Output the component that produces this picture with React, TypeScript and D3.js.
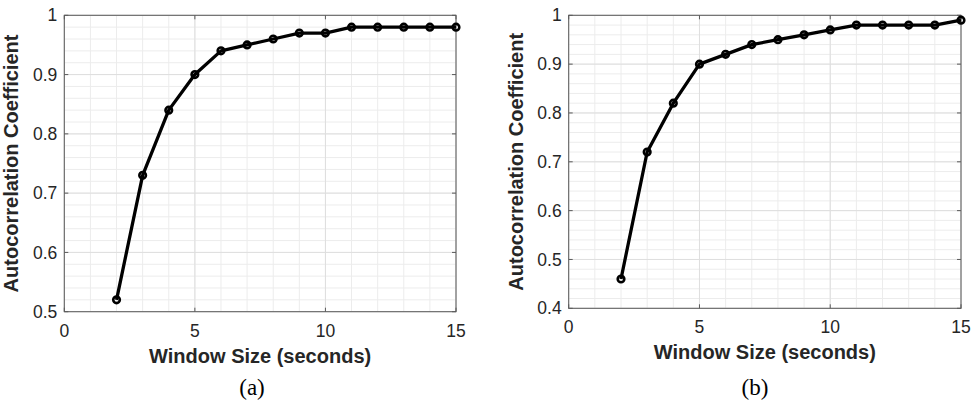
import React from 'react';
import * as d3 from 'd3';

const windowSizes = [2, 3, 4, 5, 6, 7, 8, 9, 10, 11, 12, 13, 14, 15];
const coeffA = [0.52, 0.73, 0.84, 0.90, 0.94, 0.95, 0.96, 0.97, 0.97, 0.98, 0.98, 0.98, 0.98, 0.98];
const coeffB = [0.46, 0.72, 0.82, 0.90, 0.92, 0.94, 0.95, 0.96, 0.97, 0.98, 0.98, 0.98, 0.98, 0.99];
const xTicks = [0, 5, 10, 15];
const yTicksA = [0.5, 0.6, 0.7, 0.8, 0.9, 1];
const yTicksB = [0.4, 0.5, 0.6, 0.7, 0.8, 0.9, 1];

const sans = '"Liberation Sans", Arial, sans-serif';

type PanelProps = {
    values: number[];
    yMin: number;
    yTicks: number[];
    left: number;
    right: number;
    top: number;
    bottom: number;
    caption: string;
    captionX: number;
};

const Panel = ({ values, yMin, yTicks, left, right, top, bottom, caption, captionX }: PanelProps) => {
    const x = d3.scaleLinear().domain([0, 15]).range([left, right]);
    const y = d3.scaleLinear().domain([yMin, 1]).range([bottom, top]);

    const xMinor = d3.range(0, 15.001, 1);
    const yMinor = d3.range(yMin, 1.0001, 0.02);

    const line = d3.line<number>()
        .x((d, i) => x(windowSizes[i]))
        .y(d => y(d));

    const cx = (left + right) / 2;
    const cy = (top + bottom) / 2;
    const tick = 4;

    return (
        <g>
            <rect x={left} y={top} width={right - left} height={bottom - top} fill="#fff" />
            {xMinor.map(v => (
                <line key={'xm' + v} x1={x(v)} x2={x(v)} y1={top} y2={bottom} stroke="#ececec" strokeWidth={1} />
            ))}
            {yMinor.map(v => (
                <line key={'ym' + v} x1={left} x2={right} y1={y(v)} y2={y(v)} stroke="#ececec" strokeWidth={1} />
            ))}
            {xTicks.map(v => (
                <line key={'xg' + v} x1={x(v)} x2={x(v)} y1={top} y2={bottom} stroke="#dedede" strokeWidth={1} />
            ))}
            {yTicks.map(v => (
                <line key={'yg' + v} x1={left} x2={right} y1={y(v)} y2={y(v)} stroke="#dedede" strokeWidth={1} />
            ))}
            <rect x={left} y={top} width={right - left} height={bottom - top} fill="none" stroke="#5a5a5a" strokeWidth={1} />
            {xTicks.map(v => (
                <g key={'xt' + v}>
                    <line x1={x(v)} x2={x(v)} y1={bottom} y2={bottom - tick} stroke="#5a5a5a" />
                    <line x1={x(v)} x2={x(v)} y1={top} y2={top + tick} stroke="#5a5a5a" />
                    <text x={x(v)} y={bottom + 25} textAnchor="middle" fontFamily={sans} fontSize={17.5} fill="#262626">{v}</text>
                </g>
            ))}
            {yTicks.map(v => (
                <g key={'yt' + v}>
                    <line x1={left} x2={left + tick} y1={y(v)} y2={y(v)} stroke="#5a5a5a" />
                    <line x1={right} x2={right - tick} y1={y(v)} y2={y(v)} stroke="#5a5a5a" />
                    <text x={left - 7} y={y(v)} dy="0.35em" textAnchor="end" fontFamily={sans} fontSize={17.5} fill="#262626">{d3.format('~g')(v)}</text>
                </g>
            ))}
            <path d={line(values) ?? ''} fill="none" stroke="#000" strokeWidth={3.3} strokeLinejoin="round" />
            {values.map((v, i) => (
                <circle key={'p' + i} cx={x(windowSizes[i])} cy={y(v)} r={3.3} fill="none" stroke="#000" strokeWidth={2.6} />
            ))}
            <text x={cx} y={bottom + 51} textAnchor="middle" fontFamily={sans} fontSize={20} fontWeight="bold" fill="#262626">Window Size (seconds)</text>
            <text transform={`translate(${left - 46},${cy}) rotate(-90)`} textAnchor="middle" fontFamily={sans} fontSize={20} fontWeight="bold" fill="#262626">Autocorrelation Coefficient</text>
            <text x={captionX} y={395} textAnchor="middle" fontFamily='"Liberation Serif", "Times New Roman", serif' fontSize={23} fill="#000">{caption}</text>
        </g>
    );
};

const App = () => {
    return (
        <svg width={971} height={402} style={{ position: 'absolute', left: 0, top: 0, background: '#fff' }}>
            <Panel values={coeffA} yMin={0.5} yTicks={yTicksA} left={64.3} right={456} top={15.3} bottom={311.7} caption="(a)" captionX={252} />
            <Panel values={coeffB} yMin={0.4} yTicks={yTicksB} left={568.7} right={961} top={15.3} bottom={308.3} caption="(b)" captionX={755} />
        </svg>
    );
};

export default App;
